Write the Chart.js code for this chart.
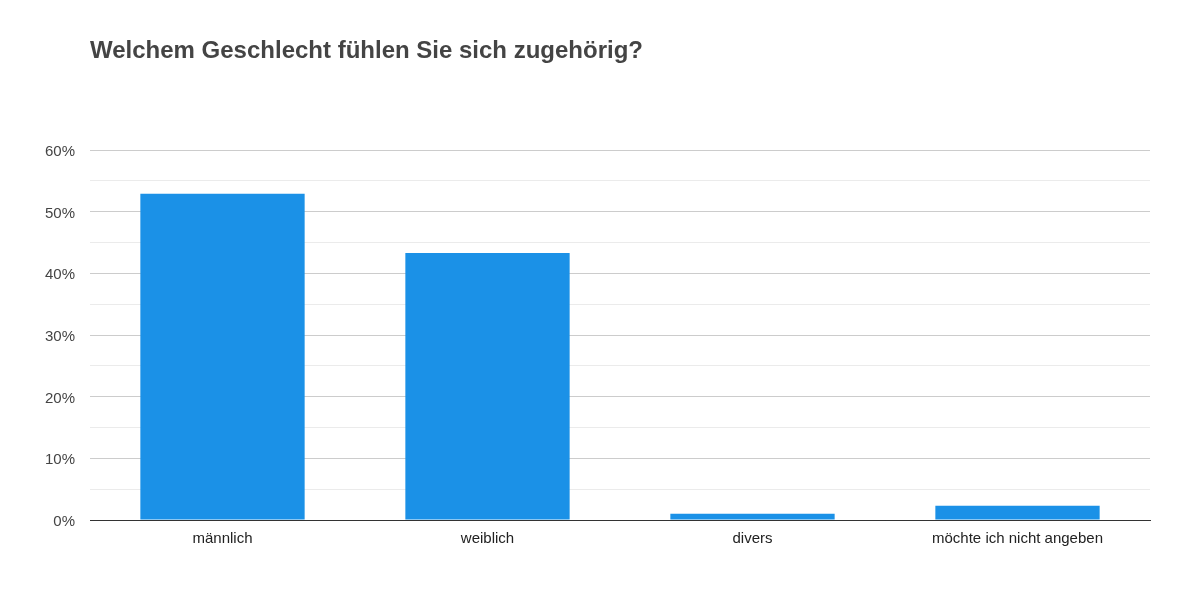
<!DOCTYPE html>
<html>
<head>
<meta charset="utf-8">
<script src="https://cdn.jsdelivr.net/npm/chart.js@4.4.1/dist/chart.umd.min.js"></script>
<style>
  html, body { margin: 0; padding: 0; background: #fff; }
  #wrap { width: 1200px; height: 600px; position: relative; }
</style>
</head>
<body>
<div id="wrap"><canvas id="chart" width="1200" height="600"></canvas></div>
<script>
// Daten aus der Umfrage
const chartTitle = 'Welchem Geschlecht fühlen Sie sich zugehörig?';
const categories = ['männlich', 'weiblich', 'divers', 'möchte ich nicht angeben'];
const shares = [52.9, 43.3, 1.0, 2.3];
const yMax = 60;
const yStep = 5;

// Titel linksbündig an der Plotfläche zeichnen
const titlePlugin = {
    id: 'leftTitle',
    afterDraw(chart) {
        const ctx = chart.ctx;
        ctx.save();
        ctx.font = 'bold 24px "Liberation Sans", Arial, sans-serif';
        ctx.fillStyle = '#444444';
        ctx.textAlign = 'left';
        ctx.textBaseline = 'middle';
        ctx.fillText(chartTitle, chart.chartArea.left, 51);
        ctx.restore();
    }
};

const ctx = document.getElementById('chart').getContext('2d');
new Chart(ctx, {
    type: 'bar',
    data: {
        labels: categories,
        datasets: [{
            data: shares,
            backgroundColor: '#1b91e7',
            barPercentage: 0.62,
            categoryPercentage: 1.0
        }]
    },
    options: {
        responsive: false,
        animation: false,
        layout: { padding: { top: 150, right: 50, left: 0, bottom: 0 } },
        plugins: {
            legend: { display: false },
            tooltip: { enabled: false }
        },
        scales: {
            x: {
                grid: { display: false },
                border: { display: true, color: '#333333', width: 1 },
                ticks: {
                    color: '#222222',
                    font: { family: '"Liberation Sans", Arial, sans-serif', size: 15 },
                    padding: 2,
                    maxRotation: 0
                },
                afterFit(scale) { scale.height = 80; }
            },
            y: {
                min: 0,
                max: yMax,
                border: { display: false },
                grid: {
                    drawTicks: false,
                    color: c => c.tick.value === 0 ? '#333333' : (c.tick.value % 10 === 0 ? '#cccccc' : '#ebebeb')
                },
                ticks: {
                    stepSize: yStep,
                    autoSkip: false,
                    padding: 15,
                    labelOffset: 2,
                    color: '#444444',
                    font: { family: '"Liberation Sans", Arial, sans-serif', size: 15 },
                    callback: v => v % 10 === 0 ? v + '%' : ''
                },
                afterFit(scale) { scale.width = 90; }
            }
        }
    },
    plugins: [titlePlugin]
});
</script>
</body>
</html>
